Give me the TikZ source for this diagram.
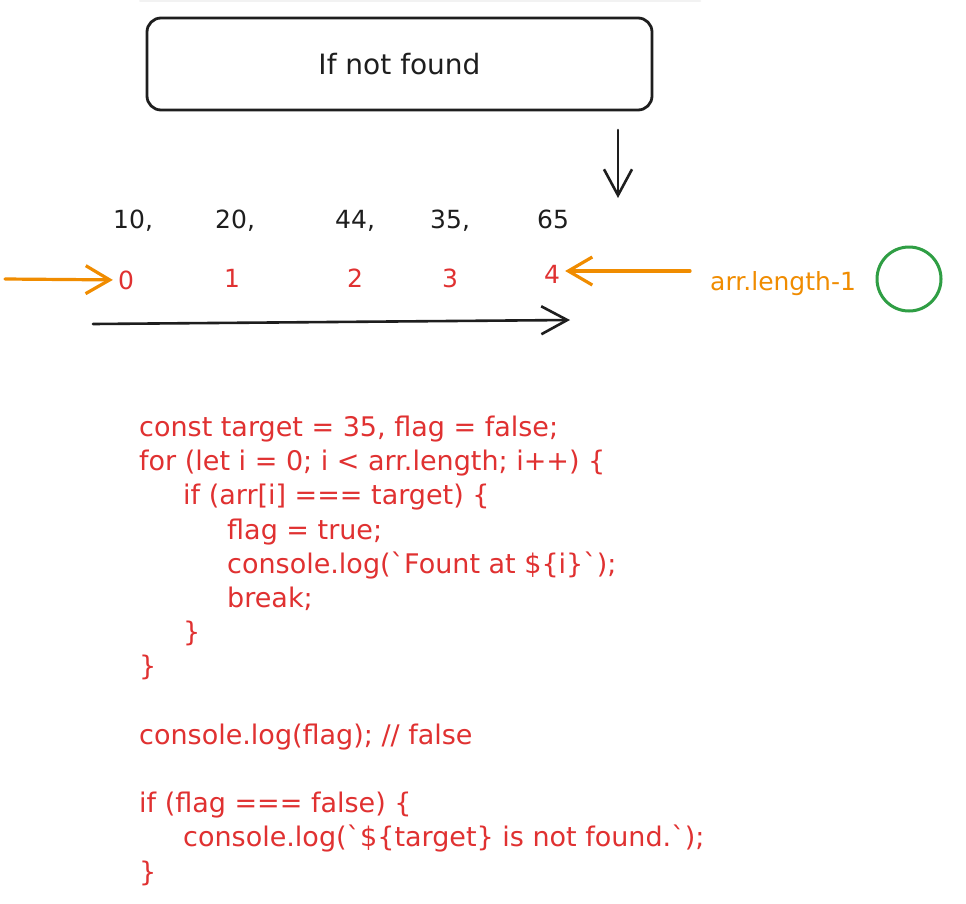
\documentclass[tikz,border=0pt]{standalone}
\usepackage{fontspec}
\newfontfamily\sketchfont{DejaVu Sans}
\usetikzlibrary{arrows.meta, positioning}
\definecolor{sketchblack}{HTML}{1E1E1E}
\definecolor{sketchred}{HTML}{E03131}
\definecolor{sketchorange}{HTML}{F08C00}
\definecolor{sketchgreen}{HTML}{2F9E44}
\begin{document}
\begin{tikzpicture}[x=1pt, y=-1pt, line cap=round, line join=round,
    value/.style={text=sketchblack, font=\sketchfont\fontsize{25}{30}\selectfont, inner sep=0pt, anchor=base west},
    index/.style={text=sketchred, font=\sketchfont\fontsize{25}{30}\selectfont, inner sep=5pt, anchor=base},
    pointer/.style={draw=sketchorange, line width=3.2pt, -{Straight Barb[length=24pt, width=28pt, line width=3.2pt]}},
    sweep/.style={draw=sketchblack, line width=2.6pt, -{Straight Barb[length=26pt, width=28pt, line width=2.6pt]}},
    code/.style={text=sketchred, font=\sketchfont\fontsize{27}{34.2}\selectfont, align=left, inner sep=0pt, anchor=base west}]
    \useasboundingbox (0,0) rectangle (966,903);
    \fill[white] (0,0) rectangle (966,903);
    \draw[black!5, line width=2pt] (140,1) -- (700,1);

    \node[draw=sketchblack, line width=2.8pt, rounded corners=14pt, minimum width=505pt, minimum height=92pt,
        text=sketchblack, font=\sketchfont\fontsize{28}{32}\selectfont] (box) at (399.5,64) {If not found};

    \coordinate (dstart) at (618,130);
    \coordinate (dend) at (618,198);
    \draw[sweep] (dstart) -- (dend);

    \foreach \n/\x/\v in {0/113/{10,}, 1/215/{20,}, 2/335/{44,}, 3/430/{35,}, 4/537/65} {
        \node[value] (val\n) at (\x,228) {\v};
    }
    \foreach \n/\x/\y in {0/126/289, 1/232/287, 2/355/287, 3/450/287, 4/552/283} {
        \node[index] (idx\n) at (\x,\y) {\n};
    }

    \coordinate (lstart) at (5,279);
    \draw[pointer] (lstart) -- (idx0.west);
    \node[text=sketchorange, font=\sketchfont\fontsize{25}{30}\selectfont, inner sep=0pt, anchor=base west] (lastlabel) at (710,290) {arr.length-1};
    \coordinate (rstart) at (690,271);
    \draw[pointer] (rstart) -- (idx4.east |- rstart);
    \node[draw=sketchgreen, line width=3pt, circle, minimum size=64pt, inner sep=0pt] (mark) at (909,279) {};

    \coordinate (sweepstart) at (93,324);
    \coordinate (sweepend) at (570,320);
    \draw[sweep] (sweepstart) -- (sweepend);

    \node[code] (code) at (139,881) {const target = 35, flag = false;\\
        for (let i = 0; i < arr.length; i++) \{\\
        \hspace*{44pt}if (arr[i] === target) \{\\
        \hspace*{88pt}flag = true;\\
        \hspace*{88pt}console.log(`Fount at \$\{i\}`);\\
        \hspace*{88pt}break;\\
        \hspace*{44pt}\}\\
        \}\\[34.2pt]
        console.log(flag); // false\\[34.2pt]
        if (flag === false) \{\\
        \hspace*{44pt}console.log(`\$\{target\} is not found.`);\\
        \}};
\end{tikzpicture}
\end{document}
